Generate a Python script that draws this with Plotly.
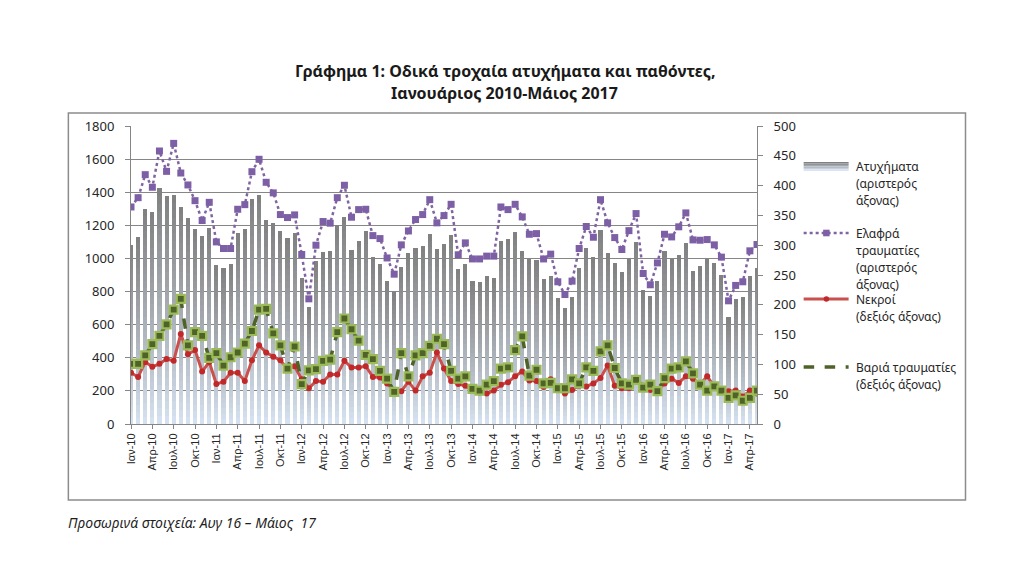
import numpy as np
import plotly.graph_objects as go

# monthly data, Jan 2010 - May 2017
accidents = [1084, 1130, 1297, 1279, 1424, 1378, 1382, 1313, 1245, 1176, 1134, 1182,
             961, 945, 967, 1152, 1180, 1361, 1384, 1235, 1215, 1164, 1124, 1152,
             881, 706, 983, 1038, 1048, 1203, 1251, 1054, 1106, 1164, 1010, 967,
             863, 798, 949, 1032, 1062, 1078, 1146, 1056, 1090, 1140, 937, 967,
             863, 857, 893, 881, 1106, 1120, 1158, 1048, 997, 989, 875, 897,
             764, 700, 770, 941, 1066, 1008, 1170, 1030, 971, 921, 997, 1100,
             810, 772, 863, 1042, 997, 1018, 1094, 927, 957, 997, 971, 899,
             648, 758, 770, 893, 941]
light_injured = [1311, 1367, 1506, 1430, 1649, 1526, 1695, 1516, 1444, 1349, 1229, 1339,
                 1100, 1060, 1060, 1297, 1325, 1524, 1599, 1460, 1396, 1265, 1247, 1263,
                 1024, 756, 1080, 1223, 1213, 1367, 1442, 1249, 1295, 1297, 1138, 1120,
                 1003, 905, 1082, 1166, 1235, 1265, 1355, 1215, 1259, 1327, 1022, 1094,
                 997, 997, 1014, 1014, 1311, 1295, 1327, 1251, 1146, 1150, 997, 1026,
                 859, 782, 863, 1060, 1193, 1128, 1355, 1215, 1126, 1054, 1168, 1271,
                 909, 841, 973, 1146, 1130, 1191, 1275, 1112, 1110, 1114, 1082, 1008,
                 744, 837, 859, 1046, 1084]
deaths = [86, 79, 104, 96, 101, 109, 106, 151, 117, 124, 88, 104,
          67, 71, 86, 86, 72, 107, 132, 120, 113, 107, 92, 97,
          75, 60, 72, 71, 83, 83, 106, 95, 95, 97, 79, 78,
          68, 56, 55, 71, 56, 80, 86, 120, 93, 72, 67, 64,
          56, 53, 51, 56, 66, 70, 80, 88, 73, 72, 62, 75,
          59, 51, 57, 64, 63, 68, 77, 98, 64, 60, 60, 76,
          64, 57, 56, 68, 76, 69, 80, 76, 67, 80, 63, 56,
          55, 56, 46, 56, 51]
serious_injured = [101, 101, 115, 134, 148, 167, 192, 210, 132, 154, 148, 111,
                   119, 98, 112, 120, 135, 156, 192, 193, 152, 132, 93, 130,
                   67, 90, 92, 106, 108, 154, 177, 159, 140, 116, 109, 89,
                   76, 54, 119, 80, 115, 119, 131, 143, 134, 89, 76, 80,
                   59, 56, 66, 72, 93, 95, 124, 147, 81, 91, 68, 69,
                   60, 60, 75, 68, 95, 89, 122, 132, 94, 68, 66, 74,
                   61, 66, 55, 77, 93, 95, 105, 85, 66, 56, 63, 56,
                   44, 48, 39, 44, 56]

tick_months = ["Ιαν", "Απρ", "Ιουλ", "Οκτ"]
tick_years = ["10", "11", "12", "13", "14", "15", "16", "17"]
tick_labels = [m + "-" + y for y in tick_years for m in tick_months][:30]

months = np.arange(len(accidents))
acc = np.array(accidents, dtype=float)

# plot area in pixels
W, H = 1024, 586
L, R, T, B = 130.7, 757.3, 126, 424


def fx(px):
    return (px - L) / (R - L)


def fy(py):
    return (B - py) / (B - T)


fig = go.Figure()

# bars with vertical gradient (grey top -> light blue bottom), stacked in slices
N = 30
c_top = np.array([128, 128, 128])
c_bot = np.array([216, 228, 243])
for k in range(N):
    f = ((k + 0.5) / N) ** 0.9
    c = c_bot + (c_top - c_bot) * f
    fig.add_trace(go.Bar(x=months, y=acc / N, base=acc * k / N, width=0.58,
                         marker=dict(color="rgb(%d,%d,%d)" % tuple(c), line=dict(width=0)),
                         showlegend=False, hoverinfo="skip"))

fig.add_trace(go.Scatter(x=months, y=light_injured, mode="lines+markers",
                         line=dict(color="#8064a2", width=2.5, dash="dot"),
                         marker=dict(symbol="square", size=7, color="#7d5fa6"),
                         showlegend=False))
fig.add_trace(go.Scatter(x=months, y=deaths, yaxis="y2", mode="lines+markers",
                         line=dict(color="#c9504c", width=3),
                         marker=dict(symbol="circle", size=6, color="#c0282a"),
                         showlegend=False))
fig.add_trace(go.Scatter(x=months, y=serious_injured, yaxis="y2", mode="lines+markers",
                         line=dict(color="#4f6228", width=3.5, dash="dash"),
                         marker=dict(symbol="square", size=8, color="#4f6228",
                                     line=dict(color="#9bbb59", width=2.2)),
                         showlegend=False))

tick_font = dict(family="Noto Sans", size=13, color="#262626")

fig.update_layout(
    width=W, height=H,
    margin=dict(l=L, r=W - R, t=T, b=H - B),
    paper_bgcolor="white", plot_bgcolor="white",
    barmode="overlay", bargap=0,
    showlegend=False,
    xaxis=dict(range=[0, 88], tickvals=list(range(0, 89, 3)), ticktext=tick_labels,
               tickangle=-90, tickfont=dict(family="Liberation Sans", size=11, color="#262626"),
               ticks="outside", ticklen=4, tickcolor="#868686",
               showline=True, linecolor="#868686", showgrid=False, zeroline=False),
    yaxis=dict(range=[0, 1800], dtick=200, tickfont=tick_font,
               ticks="outside", ticklen=5, tickcolor="#868686", ticklabelstandoff=8,
               showline=True, linecolor="#868686", gridcolor="#868686", gridwidth=1,
               zeroline=False),
    yaxis2=dict(range=[0, 500], dtick=50, overlaying="y", side="right", tickfont=tick_font,
                ticks="outside", ticklen=5, tickcolor="#868686", ticklabelstandoff=8,
                showline=True, linecolor="#868686", showgrid=False, zeroline=False),
)

shapes = []
annotations = []

# outer chart frame
shapes.append(dict(type="rect", xref="paper", yref="paper",
                   x0=fx(68), x1=fx(966), y0=fy(500), y1=fy(113),
                   line=dict(color="#8c8c8c", width=1.5), layer="below"))

# title
for txt, py in [("Γράφημα 1: Οδικά τροχαία ατυχήματα και παθόντες,", 71),
                ("Ιανουάριος 2010-Μάιος 2017", 93)]:
    annotations.append(dict(text="<b>" + txt + "</b>", xref="paper", yref="paper",
                            x=fx(505), y=fy(py), xanchor="center", yanchor="middle",
                            showarrow=False, font=dict(family="Noto Sans", size=16, color="#1a1a1a")))

# footer note
annotations.append(dict(text="<i>Προσωρινά στοιχεία: Αυγ 16 – Μάιος  17</i>", xref="paper", yref="paper",
                        x=fx(66), y=fy(522), xanchor="left", yanchor="middle", showarrow=False,
                        font=dict(family="Noto Sans", size=14, color="#1f1f1f")))

# legend (drawn by hand to keep Excel spacing)
leg_font = dict(family="Noto Sans", size=12, color="#262626")
lx0, lx1, tx = 804, 849, 854
legend_text = [
    (["Ατυχήματα", "(αριστερός", "άξονας)"], 166),
    (["Ελαφρά", "τραυματίες", "(αριστερός", "άξονας)"], 233),
    (["Νεκροί", "(δεξιός άξονας)"], 299),
    (["Βαριά τραυματίες", "(δεξιός άξονας)"], 367),
]
for lines, py in legend_text:
    for j, s in enumerate(lines):
        annotations.append(dict(text=s, xref="paper", yref="paper", x=fx(tx), y=fy(py + 17 * j),
                                xanchor="left", yanchor="middle", showarrow=False, font=leg_font))

# accidents swatch
for k in range(6):
    c = c_top + (c_bot - c_top) * k / 5
    shapes.append(dict(type="rect", xref="paper", yref="paper", x0=fx(lx0), x1=fx(lx1),
                       y0=fy(162 + 1.5 * (k + 1)), y1=fy(162 + 1.5 * k),
                       fillcolor="rgb(%d,%d,%d)" % tuple(c), line=dict(width=0)))
# light injured
shapes.append(dict(type="line", xref="paper", yref="paper", x0=fx(lx0), x1=fx(lx1), y0=fy(233), y1=fy(233),
                   line=dict(color="#8064a2", width=2.5, dash="dot")))
shapes.append(dict(type="rect", xref="paper", yref="paper", x0=fx(823.5), x1=fx(830), y0=fy(236.3), y1=fy(229.7),
                   fillcolor="#7d5fa6", line=dict(width=0)))
# deaths
shapes.append(dict(type="line", xref="paper", yref="paper", x0=fx(lx0), x1=fx(lx1), y0=fy(299), y1=fy(299),
                   line=dict(color="#c9504c", width=3)))
shapes.append(dict(type="circle", xref="paper", yref="paper", x0=fx(824), x1=fx(829.5), y0=fy(301.8), y1=fy(296.2),
                   fillcolor="#c0282a", line=dict(width=0)))
# serious injured
shapes.append(dict(type="line", xref="paper", yref="paper", x0=fx(lx0), x1=fx(lx1), y0=fy(367), y1=fy(367),
                   line=dict(color="#4f6228", width=3.5, dash="dash")))

fig.update_layout(shapes=shapes, annotations=annotations)

# drop the default 8px page margin so the figure sits at the window's corner
fig.write_html("out.html", config={"displayModeBar": False},
               post_script="document.body.style.margin='0';")
